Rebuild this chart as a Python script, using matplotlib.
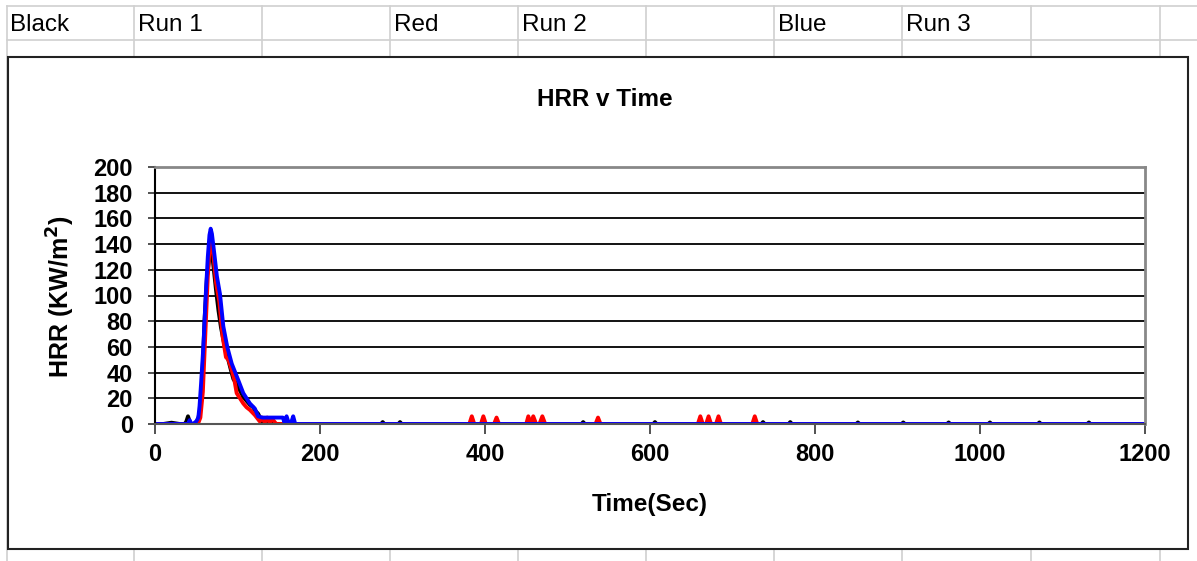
import matplotlib
matplotlib.use("Agg")
import matplotlib.pyplot as plt
from matplotlib.lines import Line2D
from matplotlib.patches import Rectangle

# ---------------- data ----------------
cell_labels = ["Black", "Run 1", "Red", "Run 2", "Blue", "Run 3"]

time_run1 = [0, 10, 20, 30, 36, 38, 40, 42, 44, 48, 52, 55, 57, 60, 63, 66, 68.7, 71,
             74, 77, 80, 84, 88, 92, 95, 99, 103, 107, 111, 115, 119, 122, 125, 128,
             131, 136, 150, 200, 240, 274, 276, 278, 295, 297, 299, 400, 517, 519, 521,
             604, 606, 608, 700, 735, 737, 739, 768, 770, 772, 850, 852, 854, 905,
             907, 909, 960, 962, 964, 1010, 1012, 1014, 1070, 1072, 1074, 1130,
             1132, 1134, 1200]
hrr_run1 = [0, 0, 1, 0, 0, 2, 6, 2, 0, 0, 3, 12, 30, 80, 115, 130, 135, 122,
            104, 88, 75, 62, 52, 42, 35, 31, 26, 21, 18, 15, 13, 10, 8, 4,
            0, 0, 0, 0, 0, 0, 1.5, 0, 0, 1.5, 0, 0, 0, 1.5, 0,
            0, 1.5, 0, 0, 0, 1.5, 0, 0, 1.5, 0, 0, 1.2, 0, 0,
            1.2, 0, 0, 1.2, 0, 0, 1.2, 0, 0, 1.2, 0, 0,
            1.2, 0, 0]

time_run2 = [0, 20, 40, 48, 52, 55, 58, 61, 64, 66, 68.7, 71, 74, 78, 82, 86, 89,
             93, 96, 99, 103, 107, 111, 115, 121, 127, 130, 133, 136, 139, 142,
             147, 200, 300, 381, 384, 387, 395, 398, 401, 411, 414, 417, 450, 452.5,
             455.5, 458.5, 462, 466, 469.5, 473, 534, 537, 540, 658, 661, 664, 668,
             671, 674, 680, 683, 686, 724, 727, 730, 800, 1000, 1200]
hrr_run2 = [0, 0, 0, 0, 0, 5, 25, 70, 115, 135, 143, 130, 110, 95, 68, 52, 50,
            42, 35, 24, 20, 16, 13, 11, 7, 2, 5, 1, 5, 1, 4,
            0, 0, 0, 0, 6, 0, 0, 6, 0, 0, 5, 0, 0, 6,
            0, 6, 0, 0, 6, 0, 0, 5, 0, 0, 6, 0, 0,
            6, 0, 0, 6, 0, 0, 6, 0, 0, 0, 0]

time_run3 = [0, 10, 20, 30, 40, 42, 44, 46, 48, 50, 52.5, 54, 55.8, 58.6, 61.4, 64,
             66, 67.5, 69, 72, 75, 78.8, 82.8, 87.6, 93, 101, 107, 115, 121, 125,
             130, 140, 150, 155, 157, 159.5, 162, 165, 167.5, 170, 200, 400, 600,
             800, 1000, 1200]
hrr_run3 = [0, 0, 0, 0, 0, 3, 0, 0, 1, 2, 5, 14, 31, 60, 99, 130,
            147, 152, 148, 132, 115, 101, 76, 60, 47, 34, 24, 16, 12, 6,
            5, 5, 5, 5, 1, 6, 1, 1, 6, 0, 0, 0, 0,
            0, 0, 0]

x_ticks = [0, 200, 400, 600, 800, 1000, 1200]
y_ticks = [0, 20, 40, 60, 80, 100, 120, 140, 160, 180, 200]

# ---------------- figure ----------------
W, H = 1197, 561
fig = plt.figure(figsize=(W / 100, H / 100), dpi=100)
fig.patch.set_facecolor("white")
plt.rcParams["font.family"] = ["Liberation Sans", "DejaVu Sans"]


def fx(px):
    return px / W


def fy(py):
    return 1 - py / H


grid_col = "#d0d0d0"
cols = [7, 134, 262, 390, 518, 646, 774, 902, 1031, 1160]
for c in cols:
    fig.add_artist(Line2D([fx(c), fx(c)], [0, fy(6)], color=grid_col, lw=1.2, zorder=0))
fig.add_artist(Line2D([fx(7), 1], [fy(6), fy(6)], color=grid_col, lw=1.2, zorder=0))
fig.add_artist(Line2D([fx(7), 1], [fy(40), fy(40)], color=grid_col, lw=1.2, zorder=0))

for lbl, x in zip(cell_labels, [10, 138, 394, 522, 778, 906]):
    fig.text(fx(x), fy(25), lbl, fontsize=17.5, ha="left", va="center", color="black")

# chart area box
fig.add_artist(Rectangle((fx(8), fy(549)), fx(1188) - fx(8), fy(57) - fy(549),
                         facecolor="white", edgecolor="#222222", lw=1.5, zorder=1))

ax = fig.add_axes([fx(155), fy(424), fx(1145) - fx(155), fy(167) - fy(424)])
ax.set_zorder(2)
ax.set_facecolor("white")

ax.plot(time_run1, hrr_run1, color="black", lw=2.8, solid_joinstyle="round")
ax.plot(time_run2, hrr_run2, color="red", lw=2.8, solid_joinstyle="round")
ax.plot(time_run3, hrr_run3, color="#0000ff", lw=2.8, solid_joinstyle="round")

ax.set_xlim(0, 1200)
ax.set_ylim(0, 200)
ax.set_xticks(x_ticks)
ax.set_yticks(y_ticks)
ax.set_xticklabels([str(v) for v in x_ticks], fontsize=17, fontweight="bold")
ax.set_yticklabels([str(v) for v in y_ticks], fontsize=17, fontweight="bold")
ax.tick_params(axis="x", direction="out", length=7, width=1.2, color="#333333", pad=7)
ax.tick_params(axis="y", direction="out", length=5, width=1.2, color="#333333", pad=11)
ax.yaxis.grid(True, color="black", lw=1.3)
ax.set_axisbelow(True)

ax.spines["left"].set_color("black")
ax.spines["left"].set_linewidth(1.5)
ax.spines["bottom"].set_color("#555555")
ax.spines["bottom"].set_linewidth(1.5)
ax.spines["top"].set_color("#888888")
ax.spines["top"].set_linewidth(2)
ax.spines["right"].set_color("#888888")
ax.spines["right"].set_linewidth(2)

fig.text(fx(605), fy(100), "HRR v Time", fontsize=17.5, fontweight="bold",
         ha="center", va="center")
fig.text(fx(650), fy(505), "Time(Sec)", fontsize=17.5, fontweight="bold",
         ha="center", va="center")
fig.text(fx(61), fy(297), "HRR (KW/m$^\\mathbf{2}$)", fontsize=18, fontweight="bold",
         rotation=90, ha="center", va="center")

fig.savefig("out.png", dpi=100, facecolor="white")
